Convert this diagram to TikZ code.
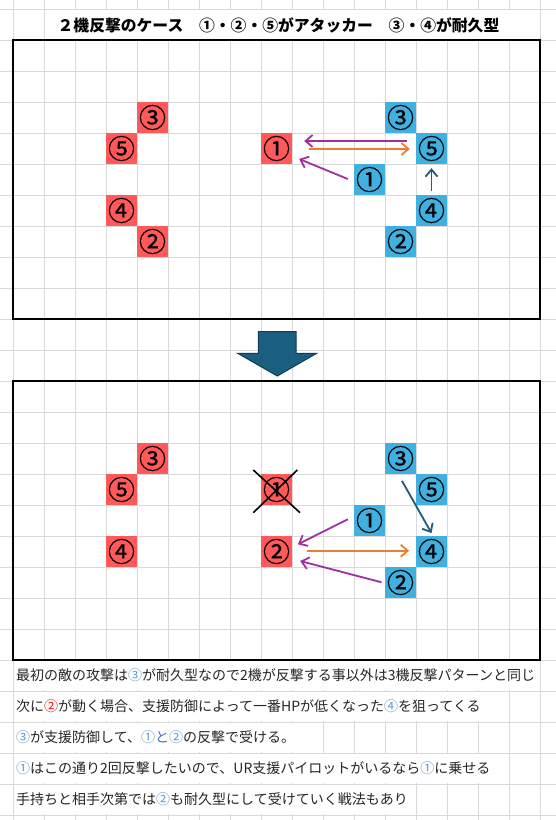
\documentclass[tikz,border=0pt]{standalone}
\usepackage{fontspec}
\setmainfont{Noto Sans CJK JP}
\newfontfamily\cellfont[FakeBold=0.6]{Noto Sans CJK JP}
\usetikzlibrary{arrows.meta}
\definecolor{gridc}{RGB}{217,217,217}
\definecolor{redc}{RGB}{255,89,89}
\definecolor{bluec}{RGB}{64,176,224}
\definecolor{purc}{RGB}{160,48,160}
\definecolor{orac}{RGB}{237,125,49}
\definecolor{tealc}{RGB}{31,92,124}
\definecolor{arrfill}{RGB}{26,94,128}
\definecolor{arrline}{RGB}{16,60,84}
\definecolor{numblue}{RGB}{91,155,213}
\definecolor{toblue}{RGB}{68,114,196}
\definecolor{numred}{RGB}{255,0,0}
\definecolor{txtc}{RGB}{38,38,38}
\newcommand{\nb}[1]{\textcolor{numblue}{#1}}
\newcommand{\nr}[1]{\textcolor{numred}{#1}}
\begin{document}
\begin{tikzpicture}[x=1pt,y=-1pt,
  gridline/.style={draw=gridc,line width=1pt},
  mask/.style={fill=white,draw=none},
  frame/.style={draw=black,line width=2pt},
  cell/.style={minimum width=31pt,minimum height=31pt,inner sep=0pt,
    font=\cellfont\fontsize{27}{27}\selectfont,text=black},
  redcell/.style={cell,fill=redc},
  bluecell/.style={cell,fill=bluec},
  conn/.style={line width=1.8pt,-{Straight Barb[length=7pt,width=12pt,line width=1.8pt]}},
  pur/.style={conn,draw=purc},
  ora/.style={conn,draw=orac},
  teal/.style={conn,draw=tealc},
  body/.style={anchor=west,inner sep=0pt,font=\fontsize{14}{14}\selectfont,text=txtc},
  bigarrow/.style={fill=arrfill,draw=arrline,line width=1pt,line join=miter}
]
\useasboundingbox (0,0) rectangle (556,820);
\fill[white] (0,0) rectangle (556,820);
% grid
\foreach \k in {0,...,17} {
  \draw[gridline] ({13+31*\k},0) -- ({13+31*\k},820);
}
\foreach \k in {0,...,26} {
  \draw[gridline] (0,{9+31*\k}) -- (556,{9+31*\k});
}
% hidden grid segments (merged / overflowing cells)
\fill[mask] (44.6,9.6) rectangle (539.4,39.4);
\fill[mask] (13.6,660.6) rectangle (539.4,690.4);
\fill[mask] (13.6,691.6) rectangle (508.4,721.4);
\fill[mask] (13.6,722.6) rectangle (322.4,752.4);
\fill[mask] (13.6,753.6) rectangle (508.4,783.4);
\fill[mask] (13.6,784.6) rectangle (415.4,814.4);

% title
\node[font=\fontsize{15.8}{16}\selectfont\bfseries,inner sep=0pt] (title) at (278.5,25)
  {２機反撃のケース　①・②・⑤がアタッカー　③・④が耐久型};

% frames
\draw[frame] (13,40) rectangle (540,319);
\draw[frame] (13,381) rectangle (540,660);

% top board
\node[redcell] (tR3) at (152.5,117.5) {③};
\node[redcell] (tR5) at (121.5,148.5) {⑤};
\node[redcell] (tR4) at (121.5,210.5) {④};
\node[redcell] (tR2) at (152.5,241.5) {②};
\node[redcell] (tR1) at (276.5,148.5) {①};
\node[bluecell] (tB3) at (400.5,117.5) {③};
\node[bluecell] (tB5) at (431.5,148.5) {⑤};
\node[bluecell] (tB1) at (369.5,179.5) {①};
\node[bluecell] (tB4) at (431.5,210.5) {④};
\node[bluecell] (tB2) at (400.5,241.5) {②};

\draw[pur] ([shift={(-9,-7.5)}]tB5.west) -- ([shift={(12,-7.5)}]tR1.east);
\draw[ora] ([shift={(17,0.5)}]tR1.east) -- ([shift={(-6,0.5)}]tB5.west);
\draw[pur] ([shift={(-6,-0.5)}]tB1.west) -- ([shift={(7,10.5)}]tR1.east);
\draw[teal] ([shift={(0,-4)}]tB4.north) -- ([shift={(0,4)}]tB5.south);

% big arrow
\draw[bigarrow] (258.3,331.7) -- (296,331.7) -- (296,353.3) -- (316.7,353.3)
  -- (277.3,376) -- (237.7,353.3) -- (258.3,353.3) -- cycle;

% bottom board
\node[redcell] (bR3) at (152.5,458.5) {③};
\node[redcell] (bR5) at (121.5,489.5) {⑤};
\node[redcell] (bR4) at (121.5,551.5) {④};
\node[redcell] (bR1) at (276.5,489.5) {①};
\node[redcell] (bR2) at (276.5,551.5) {②};
\node[bluecell] (bB3) at (400.5,458.5) {③};
\node[bluecell] (bB5) at (431.5,489.5) {⑤};
\node[bluecell] (bB1) at (369.5,520.5) {①};
\node[bluecell] (bB4) at (431.5,551.5) {④};
\node[bluecell] (bB2) at (400.5,582.5) {②};

\draw[black,line width=1.6pt] ([shift={(-23.2,-19.5)}]bR1.center) -- ([shift={(23.5,23.2)}]bR1.center);
\draw[black,line width=1.6pt] ([shift={(20.8,-19.5)}]bR1.center) -- ([shift={(-23.2,23.2)}]bR1.center);

\draw[teal] ([shift={(1.5,6.7)}]bB3.south) -- ([shift={(0,-2.7)}]bB4.north);
\draw[pur] ([shift={(-6,-1.2)}]bB1.west) -- ([shift={(5.7,-7.2)}]bR2.east);
\draw[ora] ([shift={(15,-0.8)}]bR2.east) -- ([shift={(-6.7,-0.8)}]bB4.west);
\draw[pur] ([shift={(-3.3,-0.2)}]bB2.west) -- ([shift={(8,9.5)}]bR2.east);

% notes
\node[body] (n1) at (16,675.5) {最初の敵の攻撃は\nb{③}が耐久型なので2機が反撃する事以外は3機反撃パターンと同じ};
\node[body] (n2) at (16,706.5) {次に\nr{②}が動く場合、支援防御によって一番HPが低くなった\nb{④}を狙ってくる};
\node[body] (n3) at (16,737.5) {\nb{③}が支援防御して、\nb{①}\textcolor{toblue}{と}\nb{②}の反撃で受ける。};
\node[body] (n4) at (16,768.5) {\nb{①}はこの通り2回反撃したいので、UR支援パイロットがいるなら\nb{①}に乗せる};
\node[body] (n5) at (16,799.5) {手持ちと相手次第では\nb{②}も耐久型にして受けていく戦法もあり};
\end{tikzpicture}
\end{document}
